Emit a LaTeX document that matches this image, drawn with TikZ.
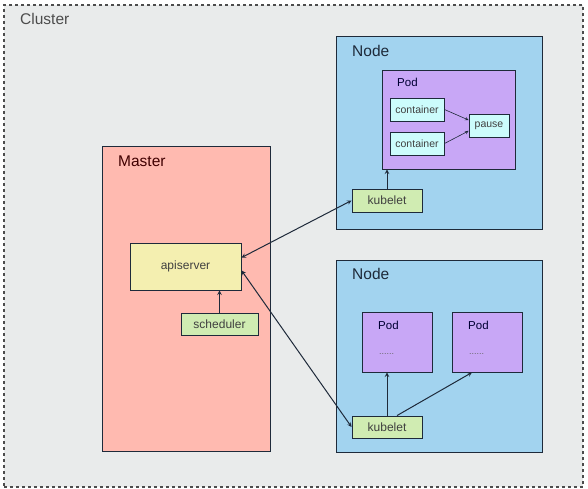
\documentclass[tikz,border=0pt]{standalone}
\usepackage{fontspec}
\setmainfont{Liberation Sans}
\usetikzlibrary{positioning}

\definecolor{clusterbg}{HTML}{E9EBEB}
\definecolor{masterfill}{HTML}{FFBAB0}
\definecolor{apifill}{HTML}{F4EFB0}
\definecolor{greenfill}{HTML}{D0ECB2}
\definecolor{nodefill}{HTML}{A2D3EF}
\definecolor{podfill}{HTML}{C8A7F6}
\definecolor{contfill}{HTML}{CCFCFC}
\definecolor{linecol}{HTML}{1E2A3A}

\begin{document}
\begin{tikzpicture}[
        x=1pt, y=-1pt,
        box/.style={rectangle, draw=linecol, line width=0.9pt, inner sep=0pt, align=center},
        small/.style={box, font=\fontsize{12}{14}\selectfont, text=black!75},
        title/.style={anchor=west, inner sep=0pt, font=\fontsize{15.5}{18}\selectfont},
        arrow/.style={->, >=stealth, line width=1pt, draw=linecol},
        biarrow/.style={<->, >=stealth, line width=1pt, draw=linecol}
    ]
        \useasboundingbox[fill=white] (0,0) rectangle (588,489);
        \node[box, dashed, line width=1.1pt, draw=black!70, fill=clusterbg, minimum width=579pt, minimum height=482pt] (cluster) at (293.5,246) {};
        \node[title, text=black!70] (clustertitle) at (20,19) {Cluster};

        % master side
        \node[box, fill=masterfill, minimum width=168pt, minimum height=305pt] (master) at (186,298.5) {};
        \node[title, text=black!75!red] (mastertitle) at (118,161) {Master};
        \node[small, fill=apifill, minimum width=111pt, minimum height=47pt] (apiserver) at (185.5,266.5) {apiserver};
        \node[small, fill=greenfill, minimum width=77pt, minimum height=22pt] (scheduler) at (219.5,324) {scheduler};

        % first node
        \node[box, fill=nodefill, minimum width=206pt, minimum height=193pt] (node1) at (439,132.5) {};
        \node[title, text=linecol] (node1title) at (352,51) {Node};
        \node[box, fill=podfill, minimum width=133pt, minimum height=99pt] (pod1) at (448.5,119.5) {};
        \node[title, font=\fontsize{11.5}{14}\selectfont, text=black!80!blue] (pod1title) at (397,82) {Pod};
        \node[small, fill=contfill, font=\fontsize{10.5}{12}\selectfont, minimum width=54pt, minimum height=23pt] (cont1) at (417,109.5) {container};
        \node[small, fill=contfill, font=\fontsize{10.5}{12}\selectfont, minimum width=54pt, minimum height=23pt] (cont2) at (417,143.5) {container};
        \node[small, fill=contfill, font=\fontsize{10.5}{12}\selectfont, minimum width=40pt, minimum height=23pt] (pause) at (489,125.5) {pause};
        \node[small, fill=greenfill, minimum width=70pt, minimum height=23pt] (kubelet1) at (387,200.5) {kubelet};

        % second node
        \node[box, fill=nodefill, minimum width=206pt, minimum height=192pt] (node2) at (439,356) {};
        \node[title, text=linecol] (node2title) at (352,274) {Node};
        \node[box, fill=podfill, minimum width=70pt, minimum height=60pt] (pod2a) at (397,342) {};
        \node[box, fill=podfill, minimum width=70pt, minimum height=60pt] (pod2b) at (487,342) {};
        \node[title, font=\fontsize{11.5}{14}\selectfont, text=black!80!blue] (pod2atitle) at (378,325) {Pod};
        \node[title, font=\fontsize{11.5}{14}\selectfont, text=black!80!blue] (pod2btitle) at (468,325) {Pod};
        \node[title, font=\fontsize{9}{10}\selectfont, text=black!60] (pod2adots) at (379,354) {......};
        \node[title, font=\fontsize{9}{10}\selectfont, text=black!60] (pod2bdots) at (469,354) {......};
        \node[small, fill=greenfill, minimum width=70pt, minimum height=22pt] (kubelet2) at (387,427) {kubelet};

        \draw[biarrow] (apiserver.9) -- (kubelet1.west);
        \draw[biarrow] (apiserver.-4) -- (kubelet2.west);
        \draw[arrow] (scheduler.north) -- (scheduler.north |- apiserver.south);
        \draw[arrow] (kubelet1.north) -- (kubelet1.north |- pod1.south);
        \draw[arrow, line width=0.6pt] (cont1.east) -- (pause.165);
        \draw[arrow, line width=0.6pt] (cont2.east) -- (pause.195);
        \draw[arrow] (kubelet2.north) -- (kubelet2.north |- pod2a.south);
        \draw[arrow] ([xshift=10pt]kubelet2.north) -- ([xshift=-15pt]pod2b.south);
    \end{tikzpicture}
\end{document}
